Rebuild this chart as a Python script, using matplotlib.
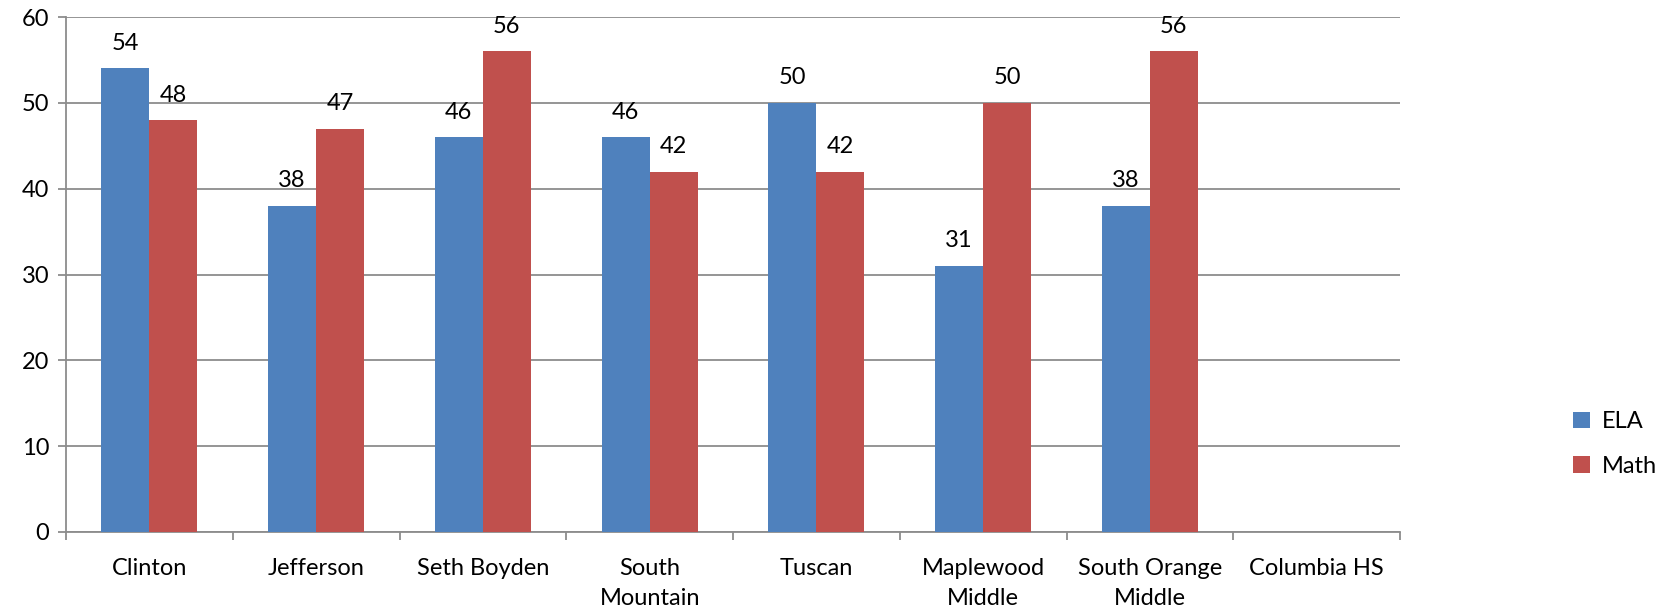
import matplotlib
matplotlib.use("Agg")
import matplotlib.pyplot as plt
import numpy as np

schools = ["Clinton", "Jefferson", "Seth Boyden", "South\nMountain", "Tuscan",
           "Maplewood\nMiddle", "South Orange\nMiddle", "Columbia HS"]
ela = [54, 38, 46, 46, 50, 31, 38, None]
math_scores = [48, 47, 56, 42, 42, 50, 56, None]

BLUE = "#4F81BD"
RED = "#C0504D"
GRID = "#8C8C8C"

plt.rcParams["font.family"] = ["Lato", "DejaVu Sans"]
FS = 17

W, H = 1659, 613
fig = plt.figure(figsize=(W / 100, H / 100), dpi=100)
ax = fig.add_axes([66 / W, 1 - 532 / H, (1400 - 66) / W, (532 - 17) / H])

x = np.arange(len(schools))
bw = 0.288

def clean(vals):
    return [np.nan if v is None else v for v in vals]

e = clean(ela)
m = clean(math_scores)
ax.bar(x - bw / 2, e, bw, color=BLUE, label="ELA", zorder=3)
ax.bar(x + bw / 2, m, bw, color=RED, label="Math", zorder=3)

for xi, v in zip(x, ela):
    if v is not None:
        ax.annotate(str(v), (xi - bw / 2, v), xytext=(0, 18), textcoords="offset points",
                    ha="center", va="center", fontsize=FS)
for xi, v in zip(x, math_scores):
    if v is not None:
        ax.annotate(str(v), (xi + bw / 2, v), xytext=(0, 18), textcoords="offset points",
                    ha="center", va="center", fontsize=FS)

ax.set_xlim(-0.5, len(schools) - 0.5)
ax.set_ylim(0, 60)
ax.set_yticks(range(0, 61, 10))
ax.yaxis.grid(True, color=GRID, linewidth=1.3, zorder=0)
ax.set_axisbelow(True)

for s in ["top", "right"]:
    ax.spines[s].set_visible(False)
for s in ["left", "bottom"]:
    ax.spines[s].set_color(GRID)
    ax.spines[s].set_linewidth(1.3)

ax.set_xticks(x)
ax.set_xticklabels(schools, fontsize=FS, linespacing=1.5)
ax.tick_params(axis="x", length=0, pad=19)
ax.set_xticks(np.arange(-0.5, len(schools), 1), minor=True)
ax.tick_params(axis="x", which="minor", length=6, width=1.3, color=GRID)
ax.tick_params(axis="y", length=6, width=1.3, color=GRID, labelsize=FS, pad=6)

leg = fig.legend(loc="upper left", bbox_to_anchor=(1552 / W, 1 - 390 / H), frameon=False,
                 fontsize=FS, handlelength=0.7, handleheight=0.7, handletextpad=0.5,
                 labelspacing=1.0)

fig.savefig("out.png", dpi=100, facecolor="white")
